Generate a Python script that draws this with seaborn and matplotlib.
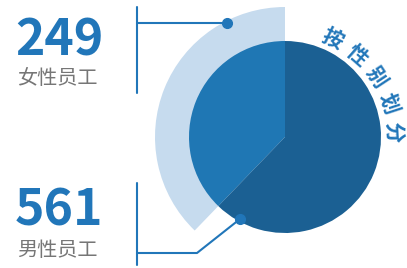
import numpy as np
import matplotlib
matplotlib.use('Agg')
import matplotlib.pyplot as plt
import seaborn as sns

# data
counts = [249, 561]
labels = ['女性员工', '男性员工']
# slice shares as drawn in the picture (degrees of the circle)
shares = [136, 224]
title_chars = ['按', '性', '别', '划', '分']

sns.set_theme(style='white')
plt.rcParams['font.family'] = ['Noto Sans CJK SC', 'DejaVu Sans']

blue_light = '#1f77b4'
blue_dark = '#1b6093'
arc_color = '#c6dbee'
num_color = '#2176b9'
gray = '#767676'

W, H = 407, 268
fig = plt.figure(figsize=(W / 100, H / 100), dpi=100)
ax = fig.add_axes([0, 0, 1, 1])

cx, cy = 285, 131

# light highlight arc behind the female slice
ax.pie(shares, radius=130, center=(cx, cy), startangle=90, counterclock=True,
       colors=[arc_color, 'none'], wedgeprops=dict(linewidth=0))
# main pie
ax.pie(shares, radius=96, center=(cx, cy), startangle=90, counterclock=True,
       colors=[blue_light, blue_dark], wedgeprops=dict(linewidth=0))

# curved title on the right
for i, ch in enumerate(title_chars):
    a = 64 - 15.3 * i
    r = 109
    x = cx + r * np.cos(np.radians(a))
    y = cy + r * np.sin(np.radians(a))
    ax.text(x, y, ch, rotation=a - 90, ha='center', va='center',
            fontsize=15, fontweight='bold', color=num_color, rotation_mode='anchor')

# connector lines
lw = 1.5
ax.plot([137, 137], [261, 175], color=num_color, lw=lw)
ax.plot([137, 227], [245, 245], color=num_color, lw=lw)
ax.plot([227], [245], 'o', color=num_color, ms=7)
ax.plot([137, 137], [85, 3], color=num_color, lw=lw)
ax.plot([137, 197, 240], [15, 15, 49], color=num_color, lw=lw)
ax.plot([240], [49], 'o', color=num_color, ms=7)

# numbers and labels
ax.text(15, 213, str(counts[0]), fontsize=36, fontweight='bold', color=num_color,
        ha='left', va='baseline')
ax.text(17, 189, labels[0], fontsize=14.5, color=gray, ha='left', va='center')
ax.text(15, 43, str(counts[1]), fontsize=36, fontweight='bold', color=num_color,
        ha='left', va='baseline')
ax.text(17, 17, labels[1], fontsize=14.5, color=gray, ha='left', va='center')

ax.set_xlim(0, W)
ax.set_ylim(0, H)
ax.set_aspect('equal')
ax.axis('off')

fig.savefig('out.png', dpi=100, facecolor='white')
